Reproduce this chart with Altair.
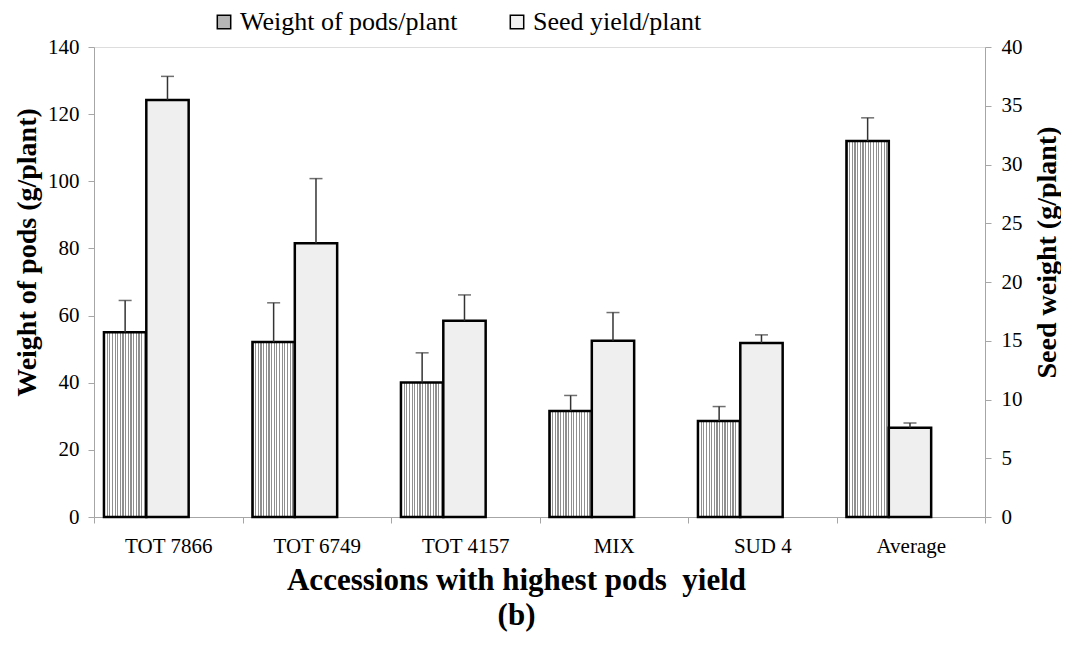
import altair as alt
import pandas as pd

categories = ["TOT 7866", "TOT 6749", "TOT 4157", "MIX", "SUD 4", "Average"]
pods = [55.0, 52.1, 40.1, 31.6, 28.6, 112.0]
pods_err = [9.5, 11.7, 8.8, 4.6, 4.3, 6.9]
seed = [35.5, 23.3, 16.7, 15.0, 14.8, 7.6]
seed_err = [2.0, 5.5, 2.2, 2.4, 0.7, 0.4]
series_names = ["Weight of pods/plant", "Seed yield/plant"]

pods_df = pd.DataFrame({"category": categories, "series": series_names[0],
                        "value": pods, "err": pods_err})
pods_df["hi"] = pods_df["value"] + pods_df["err"]
seed_df = pd.DataFrame({"category": categories, "series": series_names[1],
                        "value": seed, "err": seed_err})
seed_df["hi"] = seed_df["value"] + seed_df["err"]
all_df = pd.concat([pods_df, seed_df], ignore_index=True)

FONT = "Liberation Serif"
AXIS_GRAY = "#a6a6a6"

# vertical stripe texture for the pods bars
N = 16
stops = []
for i in range(N):
    a = round(i / N, 4)
    b = round((i + 0.45) / N, 4)
    c = round((i + 1) / N, 4)
    stops += [{"offset": a, "color": "#8f8f8f"}, {"offset": b, "color": "#8f8f8f"},
              {"offset": b, "color": "#ffffff"}, {"offset": c, "color": "#ffffff"}]
stripe = {"gradient": "linear", "x1": 0, "y1": 0, "x2": 1, "y2": 0, "stops": stops}

x_axis = alt.Axis(title=["Accessions with highest pods\u00a0 yield", "(b)"], labelAngle=0,
                  tickBand="extent", domainColor=AXIS_GRAY, tickColor=AXIS_GRAY,
                  tickSize=6, labelPadding=12, labelFont=FONT, labelFontSize=21,
                  labelColor="black", titleFont=FONT, titleFontSize=31,
                  titleFontWeight="bold", titleColor="black", titlePadding=9,
                  titleLineHeight=35, titleX=422)
x_enc = alt.X("category:N", sort=categories,
              scale=alt.Scale(paddingInner=0, paddingOuter=0), axis=x_axis)
xoff = alt.XOffset("series:N", scale=alt.Scale(domain=series_names, paddingInner=0,
                                               paddingOuter=0.753, align=0.156))

left_axis = alt.Axis(title="Weight of pods (g/plant)", values=list(range(0, 141, 20)),
                     orient="left", grid=False, domainColor=AXIS_GRAY,
                     tickColor=AXIS_GRAY, tickSize=6, labelPadding=9,
                     labelFont=FONT, labelFontSize=21, labelColor="black",
                     titleFont=FONT, titleFontSize=28, titleFontWeight="bold",
                     titleColor="black", titlePadding=6, titleY=205)
right_axis = alt.Axis(title="Seed weight (g/plant)", values=list(range(0, 41, 5)),
                      orient="right", grid=False, domainColor=AXIS_GRAY,
                      tickColor=AXIS_GRAY, tickSize=6, labelPadding=10,
                      labelFont=FONT, labelFontSize=21, labelColor="black",
                      titleFont=FONT, titleFontSize=28, titleFontWeight="bold",
                      titleColor="black", titlePadding=11, titleAngle=270,
                      titleBaseline="top", titleY=205)

y_left = alt.Scale(domain=[0, 140])
y_right = alt.Scale(domain=[0, 40])

def group(df, scale, axis, fill):
    base = alt.Chart(df)
    bars = base.mark_bar(fill=fill, stroke="black", strokeWidth=2.5).encode(
        x=x_enc, xOffset=xoff,
        y=alt.Y("value:Q", scale=scale, axis=axis))
    rule = base.mark_rule(color="#333333", strokeWidth=1.5).encode(
        x=x_enc, xOffset=xoff,
        y=alt.Y("value:Q", scale=scale, axis=axis), y2="hi:Q")
    cap = base.mark_tick(color="#333333", thickness=1.5, size=13).encode(
        x=x_enc, xOffset=xoff,
        y=alt.Y("hi:Q", scale=scale, axis=axis))
    return alt.layer(bars, rule, cap)

pods_layer = group(pods_df, y_left, left_axis, stripe)
seed_layer = group(seed_df, y_right, right_axis, "#efefef")

legend_layer = alt.Chart(all_df).mark_point(size=0, filled=True, opacity=1).encode(
    x=x_enc,
    y=alt.value(0),
    color=alt.Color("series:N",
                    scale=alt.Scale(domain=series_names, range=["#b5b5b5", "#f2f2f2"]),
                    legend=alt.Legend(title=None, orient="none", legendX=117, legendY=-38,
                                      direction="horizontal", symbolType="square",
                                      symbolSize=180, symbolStrokeColor="black",
                                      symbolStrokeWidth=1.5, symbolOpacity=1,
                                      labelFont=FONT, labelFontSize=26,
                                      labelColor="black", labelOffset=3,
                                      columnPadding=46, labelLimit=500)))

chart = alt.layer(pods_layer, seed_layer, legend_layer).resolve_scale(
    y="independent"
).properties(
    width=891, height=470,
    autosize=alt.AutoSizeParams(type="none"),
    padding={"left": 86, "top": 39, "right": 76, "bottom": 120},
).configure_view(stroke=None).configure(background="white")

chart.save("out.html", embed_options={"renderer": "svg", "actions": False})
